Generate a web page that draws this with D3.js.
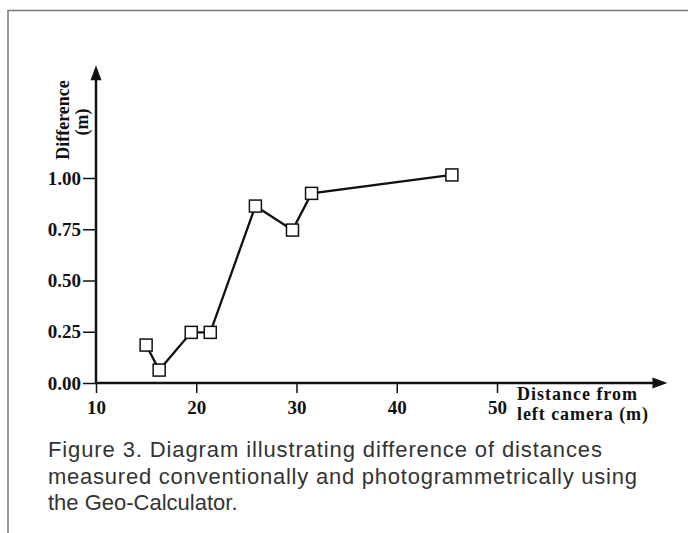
<!DOCTYPE html>
<meta charset="utf-8">
<style>
body { margin: 0; background: #fff; }
svg { display: block; }
.tick text { font-family: "Liberation Serif", "Times New Roman", serif; font-weight: bold; font-size: 19px; fill: #111; }
.tick line { stroke: #111; stroke-width: 1.5; }
.title { font-family: "Liberation Serif", "Times New Roman", serif; font-weight: bold; fill: #111; }
.caption { font-family: "Liberation Sans", Arial, sans-serif; font-size: 22px; fill: #333; }
</style>
<svg width="688" height="533"></svg>
<script src="https://cdn.jsdelivr.net/npm/d3@7"></script>
<script>

// distance from left camera (m)
var distance = [15.0, 16.3, 19.5, 21.4, 25.9, 29.6, 31.5, 45.5];
// difference (m)
var difference = [0.185, 0.063, 0.247, 0.247, 0.863, 0.746, 0.925, 1.015];

var xTicks = [10, 20, 30, 40, 50];
var yTicks = [0, 0.25, 0.5, 0.75, 1.0];

var captionLines = [
  "Figure 3. Diagram illustrating difference of distances",
  "measured conventionally and photogrammetrically using",
  "the Geo-Calculator."
];

var svg = d3.select("svg");

var x = d3.scaleLinear().domain([10, 50]).range([96, 497]);
var y = d3.scaleLinear().domain([0, 1]).range([383, 178]);

// how far the arrowed axes run past the data
var xAxisEnd = 67, yAxisEnd = 1.55;

// figure frame (top and left rules only)
svg.append("path")
    .attr("d", "M8,533V10.5H688")
    .attr("fill", "none")
    .attr("stroke", "#777")
    .attr("stroke-width", 1.5);

var gx = svg.append("g")
    .attr("transform", "translate(0," + y(0) + ")")
    .call(d3.axisBottom(x).tickValues(xTicks).tickSize(10).tickPadding(8).tickFormat(d3.format("d")));
gx.select(".domain").remove();

var gy = svg.append("g")
    .attr("transform", "translate(" + x(10) + ",0)")
    .call(d3.axisLeft(y).tickValues(yTicks).tickSize(13).tickPadding(2).tickFormat(d3.format(".2f")));
gy.select(".domain").remove();

// axis lines with arrow heads
svg.append("line")
    .attr("x1", x(10)).attr("x2", x(xAxisEnd) - 8)
    .attr("y1", y(0)).attr("y2", y(0))
    .attr("stroke", "#111").attr("stroke-width", 2.5);
svg.append("line")
    .attr("x1", x(10)).attr("x2", x(10))
    .attr("y1", y(0) + 1).attr("y2", y(yAxisEnd) + 8)
    .attr("stroke", "#111").attr("stroke-width", 2.5);

var xe = x(xAxisEnd), ye = y(yAxisEnd);
svg.append("path")
    .attr("d", "M" + xe + "," + y(0) + "l-15,-5.5v11z")
    .attr("fill", "#111");
svg.append("path")
    .attr("d", "M" + x(10) + "," + ye + "l-5.5,15h11z")
    .attr("fill", "#111");

// axis titles
var xt = svg.append("text").attr("class", "title").attr("font-size", 18);
xt.append("tspan").attr("x", 517).attr("y", 400).attr("textLength", 120).text("Distance from");
xt.append("tspan").attr("x", 517).attr("y", 420).attr("textLength", 131).text("left camera (m)");

svg.append("text").attr("class", "title").attr("font-size", 18)
    .attr("text-anchor", "middle")
    .attr("transform", "translate(69,120) rotate(-90)")
    .text("Difference");
svg.append("text").attr("class", "title").attr("font-size", 18)
    .attr("text-anchor", "middle")
    .attr("transform", "translate(88,122) rotate(-90)")
    .text("(m)");

// data
var pts = distance.map(function(d, i) { return [d, difference[i]]; });

svg.append("path")
    .datum(pts)
    .attr("fill", "none")
    .attr("stroke", "#111")
    .attr("stroke-width", 2.3)
    .attr("d", d3.line().x(function(d) { return x(d[0]); }).y(function(d) { return y(d[1]); }));

var s = 12;
svg.append("g").selectAll("rect")
    .data(pts)
    .enter().append("rect")
      .attr("x", function(d) { return x(d[0]) - s / 2; })
      .attr("y", function(d) { return y(d[1]) - s / 2; })
      .attr("width", s)
      .attr("height", s)
      .attr("fill", "#fff")
      .attr("stroke", "#111")
      .attr("stroke-width", 1.5);

// caption
var capWidths = [554, 589, null];
svg.append("g").selectAll("text")
    .data(captionLines)
    .enter().append("text")
      .attr("class", "caption")
      .attr("x", 48)
      .attr("y", function(d, i) { return 457 + i * 26.5; })
      .attr("textLength", function(d, i) { return capWidths[i]; })
      .text(function(d) { return d; });

</script>
